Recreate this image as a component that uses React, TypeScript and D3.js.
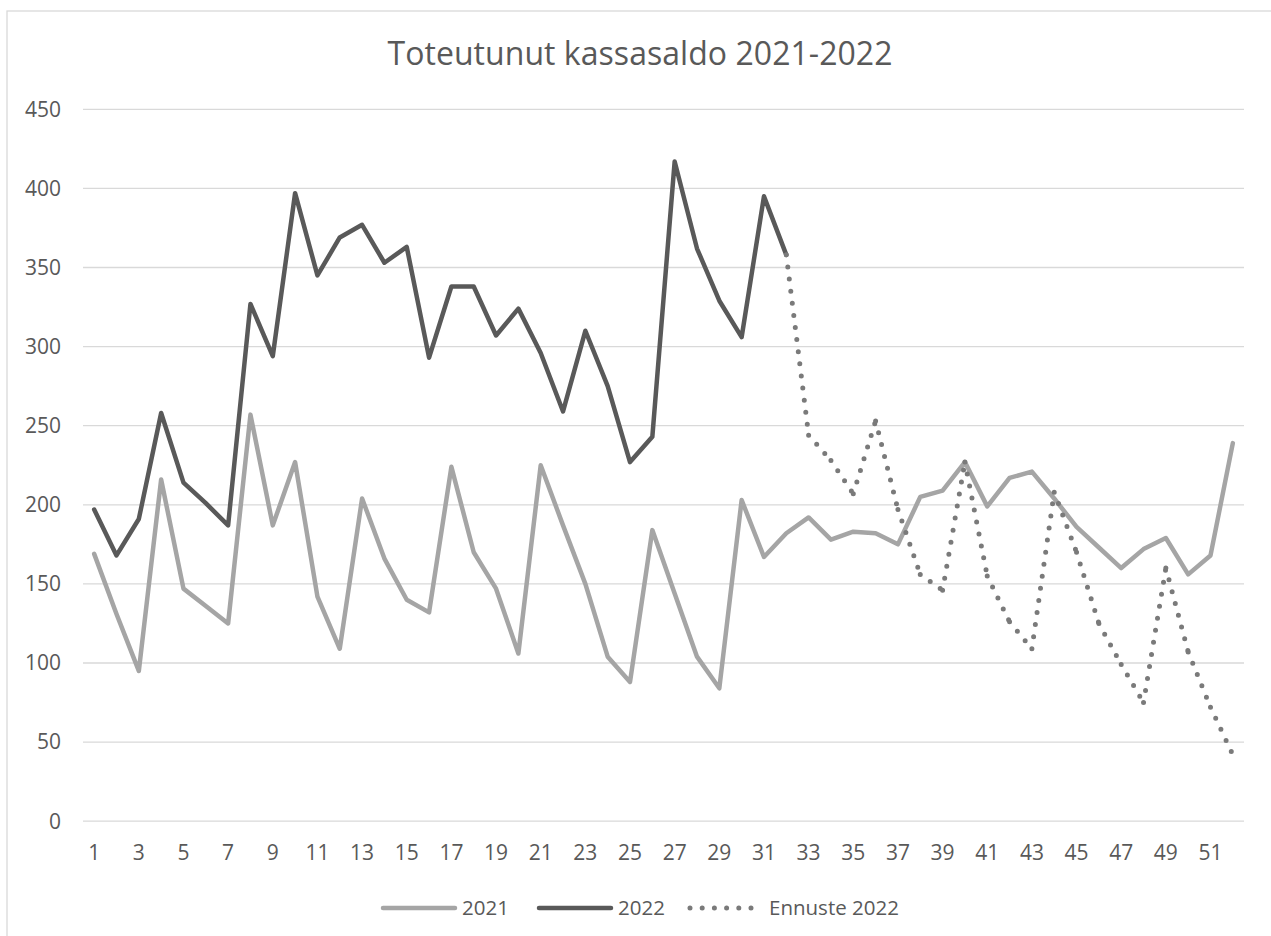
import React from "react";
import * as d3 from "d3";

const weeks = [1,2,3,4,5,6,7,8,9,10,11,12,13,14,15,16,17,18,19,20,21,22,23,24,25,26,27,28,29,30,31,32,33,34,35,36,37,38,39,40,41,42,43,44,45,46,47,48,49,50,51,52];
const values2021 = [169,131,95,216,147,136,125,257,187,227,142,109,204,166,140,132,224,170,147,106,225,187,150,104,88,184,144,104,84,203,167,182,192,178,183,182,175,205,209,227,199,217,221,204,186,173,160,172,179,156,168,239];
const values2022 = [197,168,191,258,214,201,187,327,294,397,345,369,377,353,363,293,338,338,307,324,296,259,310,275,227,243,417,362,329,306,395,358];
const forecastWeeks = [32,33,34,35,36,37,38,39,40,41,42,43,44,45,46,47,48,49,50,51,52];
const forecast2022 = [358,244,228,207,253,197,156,146,227,155,126,109,208,170,125,99,75,160,107,72,42];
const yTicks = [0,50,100,150,200,250,300,350,400,450];
const xTickLabels = [1,3,5,7,9,11,13,15,17,19,21,23,25,27,29,31,33,35,37,39,41,43,45,47,49,51];
const seriesNames = ["2021", "2022", "Ennuste 2022"];
const title = "Toteutunut kassasaldo 2021-2022";

const W = 1271, H = 936;
const plotLeft = 83, plotRight = 1244, plotTop = 109.3, plotBottom = 821.2;
const textColor = "#595959";
const gridColor = "#d9d9d9";
const c2021 = "#a5a5a5";
const c2022 = "#595959";
const cFore = "#7a7a7a";
const font = "'Open Sans', 'Noto Sans', sans-serif";

export default function App() {
  const x = d3.scalePoint<number>().domain(weeks).range([plotLeft, plotRight]).padding(0.5);
  const y = d3.scaleLinear().domain([0, 450]).range([plotBottom, plotTop]);

  const line = d3.line<[number, number]>().x(d => x(d[0]) as number).y(d => y(d[1]));
  const p2021 = line(weeks.map((w, i) => [w, values2021[i]]));
  const p2022 = line(values2022.map((v, i) => [weeks[i], v]));
  const fpts: [number, number][] = forecastWeeks.map((w, i) => [w, forecast2022[i]]);
  const fsegs = fpts.slice(0, -1).map((p, i) => line([p, fpts[i + 1]]));

  const dotDash = "0 12.2";
  const legendY = 908;
  const legend = [
    { name: seriesNames[0], x0: 383, color: c2021, dash: undefined as string | undefined, w: 4.5 },
    { name: seriesNames[1], x0: 539, color: c2022, dash: undefined, w: 4.5 },
    { name: seriesNames[2], x0: 690, color: cFore, dash: dotDash, w: 5 },
  ];

  return (
    <svg width={W} height={H} style={{ position: "absolute", left: 0, top: 0, background: "#fff" }}>
      <rect x={0} y={0} width={W} height={H} fill="#fff" />
      <rect x={7} y={11} width={W + 20} height={H + 20} fill="#fff" stroke={gridColor} strokeWidth={1.3} />
      <text x={640} y={65} textAnchor="middle" fontFamily={font} fontSize={32} fill={textColor}
        textLength={505} lengthAdjust="spacing">{title}</text>
      {yTicks.map(t => (
        <g key={t}>
          <line x1={plotLeft} x2={plotRight} y1={y(t)} y2={y(t)} stroke={gridColor} strokeWidth={1.3} />
          <text x={61} y={y(t)} dy="0.35em" textAnchor="end" fontFamily={font} fontSize={21} fill={textColor}>{t}</text>
        </g>
      ))}
      {xTickLabels.map(w => (
        <text key={w} x={x(w)} y={860} textAnchor="middle" fontFamily={font} fontSize={21} fill={textColor}>{w}</text>
      ))}
      <path d={p2021 || ""} fill="none" stroke={c2021} strokeWidth={4.5} strokeLinejoin="round" strokeLinecap="round" />
      <path d={p2022 || ""} fill="none" stroke={c2022} strokeWidth={4.5} strokeLinejoin="round" strokeLinecap="round" />
      {fsegs.map((d, i) => (
        <path key={i} d={d || ""} fill="none" stroke={cFore} strokeWidth={5} strokeLinecap="round" strokeDasharray={dotDash} />
      ))}
      {legend.map(l => (
        <g key={l.name}>
          <line x1={l.x0} x2={l.x0 + 72} y1={legendY} y2={legendY} stroke={l.color} strokeWidth={l.w}
            strokeLinecap="round" strokeDasharray={l.dash} />
          <text x={l.x0 + 79} y={legendY} dy="0.35em" fontFamily={font} fontSize={20.5} fill={textColor}>{l.name}</text>
        </g>
      ))}
    </svg>
  );
}
